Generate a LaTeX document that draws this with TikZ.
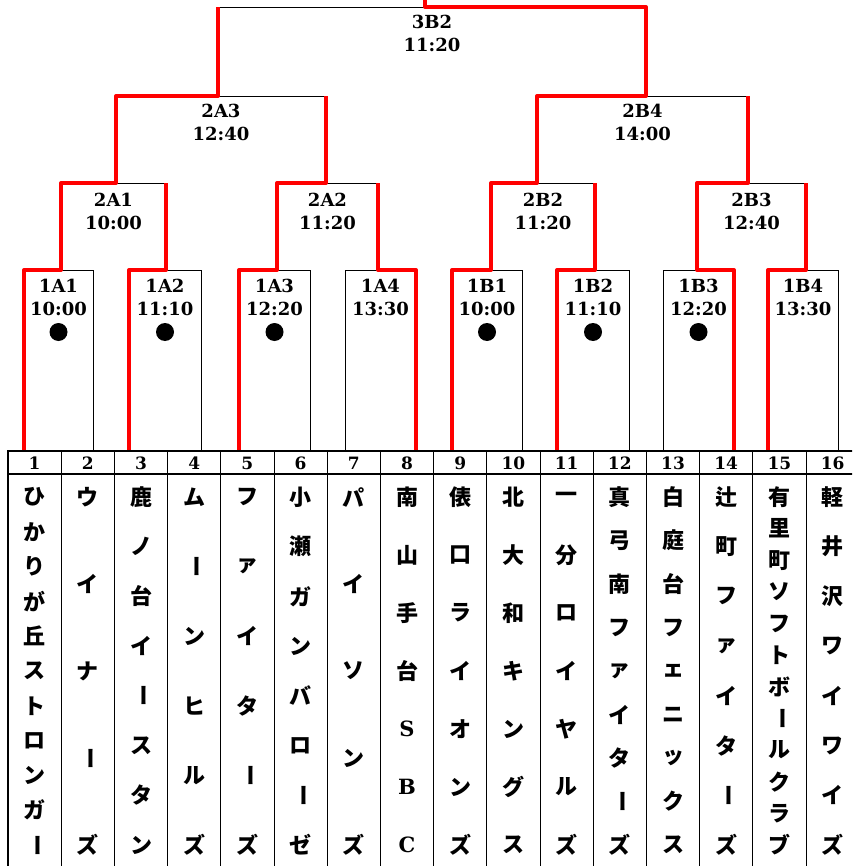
\documentclass[tikz,border=0pt]{standalone}
\usepackage{fontspec}
\usepackage{graphicx}
\newfontfamily\jpfont{Noto Sans CJK JP}
\newfontfamily\labfont{DejaVu Serif}
\tikzset{
	win/.style={red, line width=4pt, line join=round},
	box/.style={black, line width=0.9pt},
	lbl/.style={font=\labfont\bfseries\fontsize{18}{23}\selectfont, align=center, inner sep=0pt},
	numlbl/.style={font=\labfont\bfseries\fontsize{17}{17}\selectfont, inner sep=0pt},
	namech/.style={font=\jpfont\bfseries\fontsize{22}{22}\selectfont, inner sep=0pt},
	latch/.style={font=\labfont\bfseries\fontsize{21}{21}\selectfont, inner sep=0pt},
}
\def\vb{\rotatebox[origin=c]{-90}{ー}}
\def\bracket#1#2#3#4#5#6#7{\draw[box] (#2,#5) -- (#2,#4) -- (#3,#4) -- (#3,#5);
	\node[lbl] (#1) at ({(#2+#3)/2},#6) {#7};}
\def\teamname#1#2#3{\foreach \ch [count=\k] in {#3}
	\node[namech] (n#1-\k) at ({8+53.2*(#1-0.5)},{497+348*(\k-1)/(#2-1)}) {\ch};}

\begin{document}
\begin{tikzpicture}[x=1pt, y=-1pt]
		%%%%% START %%%%%
		\useasboundingbox (0,0) rectangle (852,866);
		\clip (0,0) rectangle (852,866);
		
		% first round
		\bracket{m1A1}{24}{93}{270}{451}{297}{1A1\\10:00}
		\bracket{m1A2}{129}{201}{270}{451}{297}{1A2\\11:10}
		\bracket{m1A3}{239}{310}{270}{451}{297}{1A3\\12:20}
		\bracket{m1A4}{345}{416}{270}{451}{297}{1A4\\13:30}
		\bracket{m1B1}{452}{522}{270}{451}{297}{1B1\\10:00}
		\bracket{m1B2}{557}{629}{270}{451}{297}{1B2\\11:10}
		\bracket{m1B3}{663}{734}{270}{451}{297}{1B3\\12:20}
		\bracket{m1B4}{768}{838}{270}{451}{297}{1B4\\13:30}
		\foreach \m in {m1A1,m1A2,m1A3,m1B1,m1B2,m1B3}
			\fill (\m |- 0,332) circle (9pt);
		
		% second round
		\bracket{m2A1}{61}{166}{183}{270}{211}{2A1\\10:00}
		\bracket{m2A2}{277}{378}{183}{270}{211}{2A2\\11:20}
		\bracket{m2B2}{491}{595}{183}{270}{211}{2B2\\11:20}
		\bracket{m2B3}{697}{806}{183}{270}{211}{2B3\\12:40}
		
		% third round and final
		\bracket{m2A3}{116}{326}{96}{183}{122}{2A3\\12:40}
		\bracket{m2B4}{537}{748}{96}{183}{122}{2B4\\14:00}
		\bracket{m3B2}{218}{646}{7}{96}{33}{3B2\\11:20}
		
		% winners
		\draw[win] (24,451) |- (61,270) |- (116,183) |- (218,96) -- (218,7);
		\draw[win] (129,451) |- (166,270) -- (166,183);
		\draw[win] (239,451) |- (277,270) |- (326,183) -- (326,96);
		\draw[win] (416,451) |- (378,270) -- (378,183);
		\draw[win] (452,451) |- (491,270) |- (537,183) |- (646,96) |- (425,7) -- (425,-5);
		\draw[win] (557,451) |- (595,270) -- (595,183);
		\draw[win] (734,451) |- (697,270) |- (748,183) -- (748,96);
		\draw[win] (768,451) |- (806,270) -- (806,183);
		
		% table
		\foreach \i in {1,...,15}
			\draw[line width=1pt] ({8+53.2*\i},451) -- ({8+53.2*\i},870);
		\draw[line width=2pt] (8,474) -- (860,474);
		\draw[line width=2.5pt] (8,870) -- (8,451) -- (860,451);
		\foreach \i in {1,...,16}
			\node[numlbl] (h\i) at ({8+53.2*(\i-0.5)},463) {\i};
		
		\teamname{1}{11}{ひ,か,り,が,丘,ス,ト,ロ,ン,ガ,\vb}
		\teamname{2}{5}{ウ,イ,ナ,\vb,ズ}
		\teamname{3}{8}{鹿,ノ,台,イ,\vb,ス,タ,ン}
		\teamname{4}{6}{ム,\vb,ン,ヒ,ル,ズ}
		\teamname{5}{6}{フ,ァ,イ,タ,\vb,ズ}
		\teamname{6}{8}{小,瀬,ガ,ン,バ,ロ,\vb,ゼ}
		\teamname{7}{5}{パ,イ,ソ,ン,ズ}
		\teamname{8}{7}{南,山,手,台}
		\foreach \ch [count=\k from 5] in {S,B,C}
			\node[latch] (n8-\k) at ({8+53.2*7.5},{497+58*(\k-1)}) {\ch};
		\teamname{9}{7}{俵,口,ラ,イ,オ,ン,ズ}
		\teamname{10}{7}{北,大,和,キ,ン,グ,ス}
		\teamname{11}{7}{一,分,ロ,イ,ヤ,ル,ズ}
		\teamname{12}{9}{真,弓,南,フ,ァ,イ,タ,\vb,ズ}
		\teamname{13}{9}{白,庭,台,フ,ェ,ニ,ッ,ク,ス}
		\teamname{14}{8}{辻,町,フ,ァ,イ,タ,\vb,ズ}
		\teamname{15}{12}{有,里,町,ソ,フ,ト,ボ,\vb,ル,ク,ラ,ブ}
		\teamname{16}{8}{軽,井,沢,ワ,イ,ワ,イ,ズ}
		%%%%% END %%%%%
	\end{tikzpicture}
\end{document}
